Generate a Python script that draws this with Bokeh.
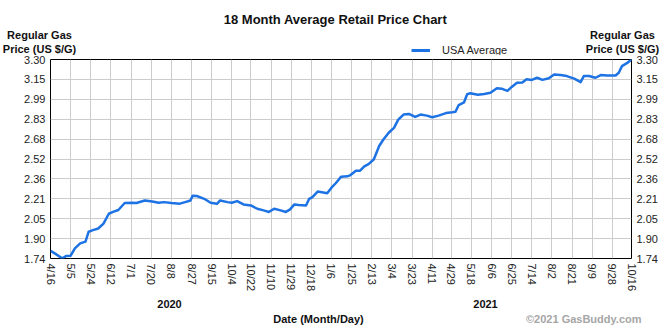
import math
from datetime import date
from bokeh.plotting import figure
from bokeh.layouts import column
from bokeh.models import FixedTicker, LinearAxis, Range1d, Legend, LegendItem
from bokeh.core.properties import value
from bokeh.embed import file_html
from bokeh.resources import INLINE

# ---------------- data ----------------
series_name = "USA Average"
start_date = "2020-04-16"
day_offsets = [0, 4, 11, 15, 19, 23, 28, 33, 36, 40, 45, 50, 55, 59, 64, 70, 77, 81, 89, 96,
               102, 107, 114, 122, 127, 132, 134, 138, 145, 151, 157, 160, 167, 171, 176, 182,
               189, 195, 201, 206, 211, 217, 222, 226, 230, 234, 241, 244, 247, 252, 256, 261,
               265, 269, 274, 280, 283, 288, 292, 296, 300, 305, 310, 314, 319, 324, 328, 333,
               338, 344, 349, 355, 360, 366, 373, 379, 382, 385, 390, 393, 396, 403, 409, 415,
               421, 426, 431, 435, 440, 445, 449, 454, 459, 464, 470, 475, 481, 487, 494, 500,
               503, 508, 514, 519, 525, 533, 536, 539, 544, 548]
prices = [1.800, 1.780, 1.742, 1.760, 1.762, 1.820, 1.859, 1.872, 1.950, 1.962, 1.975, 2.014,
          2.091, 2.105, 2.120, 2.175, 2.177, 2.175, 2.195, 2.187, 2.177, 2.182, 2.175, 2.170,
          2.182, 2.195, 2.232, 2.230, 2.208, 2.177, 2.169, 2.195, 2.182, 2.177, 2.190, 2.164,
          2.156, 2.130, 2.117, 2.105, 2.130, 2.117, 2.105, 2.125, 2.164, 2.160, 2.156, 2.208,
          2.221, 2.265, 2.260, 2.252, 2.295, 2.330, 2.380, 2.384, 2.394, 2.428, 2.428, 2.462,
          2.480, 2.518, 2.622, 2.673, 2.726, 2.764, 2.829, 2.868, 2.873, 2.850, 2.868, 2.860,
          2.847, 2.860, 2.880, 2.886, 2.890, 2.943, 2.963, 3.028, 3.036, 3.023, 3.030, 3.040,
          3.075, 3.070, 3.054, 3.085, 3.118, 3.120, 3.145, 3.140, 3.157, 3.140, 3.153, 3.183,
          3.178, 3.170, 3.150, 3.123, 3.170, 3.170, 3.157, 3.178, 3.175, 3.175, 3.196, 3.248,
          3.273, 3.300]

x_tick_dates = ["2020-04-16", "2020-05-05", "2020-05-24", "2020-06-12", "2020-07-01",
                "2020-07-20", "2020-08-08", "2020-08-27", "2020-09-15", "2020-10-04",
                "2020-10-22", "2020-11-10", "2020-11-29", "2020-12-18", "2021-01-06",
                "2021-01-25", "2021-02-13", "2021-03-04", "2021-03-23", "2021-04-11",
                "2021-04-29", "2021-05-18", "2021-06-06", "2021-06-25", "2021-07-14",
                "2021-08-02", "2021-08-21", "2021-09-09", "2021-09-28", "2021-10-16"]
x_tick_labels = ["4/16", "5/5", "5/24", "6/12", "7/1", "7/20", "8/8", "8/27", "9/15", "10/4",
                 "10/22", "11/10", "11/29", "12/18", "1/6", "1/25", "2/13", "3/4", "3/23",
                 "4/11", "4/29", "5/18", "6/6", "6/25", "7/14", "8/2", "8/21", "9/9", "9/28",
                 "10/16"]
y_ticks = [1.74, 1.896, 2.052, 2.208, 2.364, 2.52, 2.676, 2.832, 2.988, 3.144, 3.30]
y_tick_labels = ["1.74", "1.90", "2.05", "2.21", "2.36", "2.52", "2.68", "2.83", "2.99", "3.15", "3.30"]
years = ["2020", "2021"]

d0 = date.fromisoformat(start_date)
x_ticks = [(date.fromisoformat(s) - d0).days for s in x_tick_dates]

# ---------------- layout constants ----------------
W = 670
TOP_H, MAIN_H, BOT_H = 55, 239, 31
FL, FR = 50, 631          # frame left / right (px)
MB_TOP, MB_BOT = 4, 34     # main figure borders -> frame 59..260 on the page
FONT = "Liberation Sans"
LINE_COLOR = "#1e73e4"
TXT = "#111111"

def blank(h):
    f = figure(width=W, height=h, output_backend="svg", toolbar_location=None, title=None,
               x_range=Range1d(0, W), y_range=Range1d(h, 0),
               x_axis_location=None, y_axis_location=None,
               min_border=0, min_border_left=0, min_border_right=0,
               min_border_top=0, min_border_bottom=0)
    f.frame_align = False
    f.outline_line_color = None
    f.grid.visible = False
    f.background_fill_color = "white"
    f.border_fill_color = "white"
    return f

# ---------------- header ----------------
top = blank(TOP_H)
top.text(x=[335], y=[19], text=["18 Month Average Retail Price Chart"],
         text_font=value(FONT), text_font_size="13px", text_font_style="bold",
         text_align="center", text_baseline="alphabetic", text_color=TXT)
top.text(x=[39, 39, 622, 622], y=[34, 48, 34, 48],
         text=["Regular Gas", "Price (US $/G)", "Regular Gas", "Price (US $/G)"],
         text_font=value(FONT), text_font_size="11px", text_font_style="bold",
         text_align="center", text_baseline="alphabetic", text_color=TXT)
# legend key renderer (no visible data of its own in the header)
leg_r = top.line(x=[float("nan"), float("nan")], y=[float("nan"), float("nan")],
                 line_color=LINE_COLOR, line_width=3)
leg = Legend(items=[LegendItem(label=series_name, renderers=[leg_r])],
             location=(411, -1), orientation="horizontal",
             background_fill_alpha=0, border_line_color=None,
             label_text_font=FONT, label_text_font_size="11px", label_text_color="#222222",
             glyph_width=19, glyph_height=12, label_height=12, label_standoff=12,
             padding=0, margin=0, spacing=0)
top.add_layout(leg, "center")

# ---------------- main chart ----------------
p = figure(width=W, height=MAIN_H, output_backend="svg", toolbar_location=None, title=None,
           x_range=Range1d(x_ticks[0], x_ticks[-1]), y_range=Range1d(y_ticks[0], y_ticks[-1]),
           min_border_left=FL, min_border_right=W - FR,
           min_border_top=MB_TOP, min_border_bottom=MB_BOT)
p.frame_align = False
p.outline_line_color = "black"
p.outline_line_width = 1
p.background_fill_color = "white"
p.border_fill_color = "white"

p.line(day_offsets, prices, line_color=LINE_COLOR, line_width=2.5, line_join="round")

def style_axis(ax):
    ax.axis_line_color = None
    ax.major_tick_line_color = None
    ax.minor_tick_line_color = None
    ax.major_tick_out = 0
    ax.major_tick_in = 0
    ax.major_label_text_font = FONT
    ax.major_label_text_font_size = "11px"
    ax.major_label_text_color = "#222222"

xt = FixedTicker(ticks=x_ticks)
yt = FixedTicker(ticks=y_ticks)
p.xaxis.ticker = xt
p.xaxis.major_label_overrides = {d: l for d, l in zip(x_ticks, x_tick_labels)}
p.xaxis.major_label_orientation = -math.pi / 2
p.xaxis.major_label_standoff = 5
p.yaxis.ticker = yt
p.yaxis.major_label_overrides = {v: l for v, l in zip(y_ticks, y_tick_labels)}
p.yaxis.major_label_standoff = 5
style_axis(p.xaxis[0])
style_axis(p.yaxis[0])

ry = LinearAxis(ticker=FixedTicker(ticks=y_ticks),
                major_label_overrides={v: l for v, l in zip(y_ticks, y_tick_labels)})
style_axis(ry)
ry.major_label_standoff = 5
p.add_layout(ry, "right")

p.xgrid.ticker = xt
p.ygrid.ticker = yt
p.grid.grid_line_color = "#cccccc"
p.grid.grid_line_width = 1

# ---------------- footer ----------------
bot = blank(BOT_H)
bot.text(x=[169, 485], y=[9, 9], text=years,
         text_font=value(FONT), text_font_size="11px", text_font_style="bold",
         text_align="center", text_baseline="alphabetic", text_color=TXT)
bot.text(x=[318], y=[24], text=["Date (Month/Day)"],
         text_font=value(FONT), text_font_size="11px", text_font_style="bold",
         text_align="center", text_baseline="alphabetic", text_color=TXT)
bot.text(x=[641], y=[24], text=["\u00a92021 GasBuddy.com"],
         text_font=value(FONT), text_font_size="11px", text_font_style="bold",
         text_align="right", text_baseline="alphabetic", text_color="#a6a6a6")

layout = column(top, p, bot, spacing=0)
open("out.html", "w").write(file_html(layout, INLINE))
